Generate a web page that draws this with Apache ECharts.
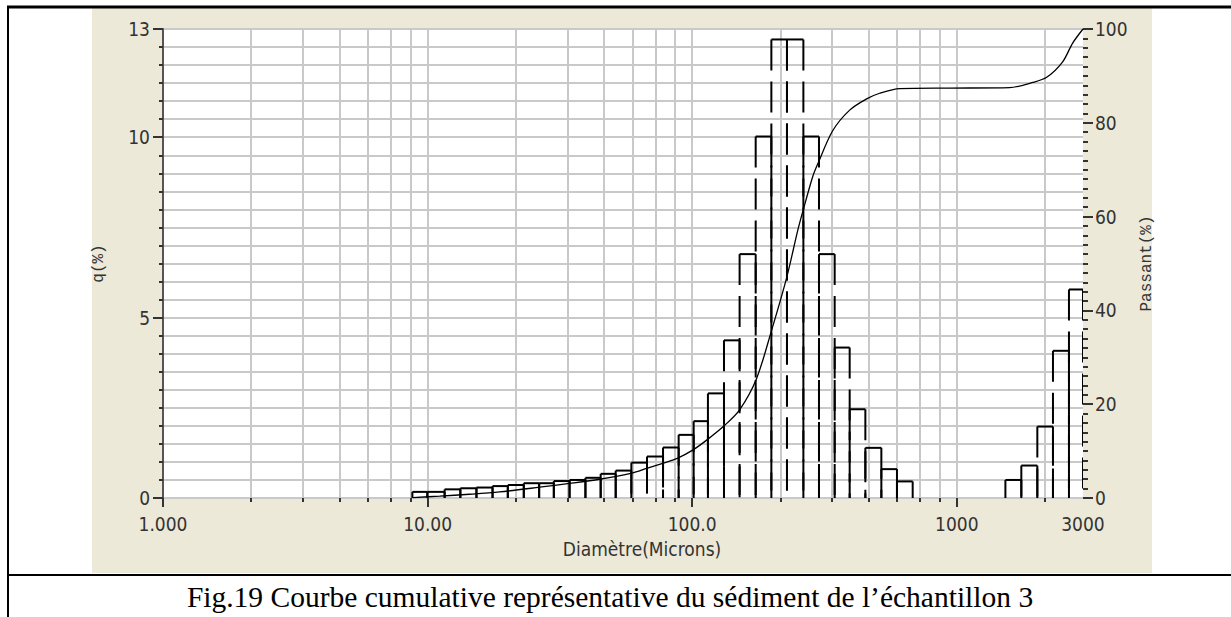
<!DOCTYPE html>
<html>
<head>
<meta charset="utf-8">
<script src="https://cdn.jsdelivr.net/npm/echarts@6/dist/echarts.min.js"></script>
<style>
html, body { margin: 0; padding: 0; background: #fff; }
#chart { width: 1231px; height: 617px; }
</style>
</head>
<body>
<div id="chart"></div>
<script>
// histogram classes: bin edges in microns, q(%) for each class (null = empty gap)
const binEdges = [8.76, 9.98, 11.6, 13.3, 15.3, 17.6, 20.1, 23.1, 26.4, 30.0, 34.4, 39.5, 45.1, 51.4,
  58.9, 67.5, 77.6, 88.9, 101.3, 114.7, 131.9, 151.1, 173.8, 199.2, 228.2, 263.2, 301.5, 345.6,
  393.8, 451.4, 518.8, 594.3, 681.4, 1527, 1754, 2016, 2310, 2655, 3000]
const qValues = [0.17, 0.17, 0.24, 0.27, 0.29, 0.33, 0.36, 0.41, 0.41, 0.47, 0.50, 0.56, 0.67, 0.76,
  0.98, 1.15, 1.40, 1.75, 2.13, 2.90, 4.37, 6.76, 10.02, 12.71, 12.71, 10.02, 6.76, 4.17,
  2.46, 1.39, 0.80, 0.46, null, 0.50, 0.90, 1.98, 4.08, 5.78]

// cumulative curve (Passant %)
const passantDiam = [8.8, 11.1, 14.4, 18.7, 26.5, 34.4, 44.7, 59.1, 67.3, 77.4, 88.2, 100.4, 114.4,
  132.7, 151.1, 175.2, 199.7, 227.6, 250.5, 261.6, 285.4, 298.1, 339.6, 393.8, 456.5, 511.1,
  608.4, 940, 1585, 1936, 2187, 2513, 2742, 3000]
const passantPct = [0.1, 0.4, 0.8, 1.3, 2.3, 3.1, 4.0, 5.3, 6.3, 7.4, 8.5, 10.2, 12.5,
  15.5, 18.8, 25.5, 35.8, 47, 57, 61, 68.5, 71.2, 78.3, 82.7, 85.1, 86.3,
  87.3, 87.4, 87.5, 88.6, 89.7, 93, 97, 100]

// axis ticks
const xMajorTicks = [1, 10, 100, 1000]
const xLabels = [1, 10, 100, 1000, 3000]
const minorSteps = [2, 3, 4, 5, 6, 7]   // the software squeezes its minor grid: steps of a base-8 scale
const qLabels = [0, 5, 10, 13]

const labelFont = "'DejaVu Sans Condensed', 'Liberation Sans Narrow', 'DejaVu Sans', sans-serif"
const monoFont = "'Courier New', 'Liberation Mono', monospace"
const gridColor = '#c9c9c9'
const inkColor = '#333'

let bars = []
for (let i = 0; i < qValues.length; i++) {
  if (qValues[i] == null) continue
  bars.push([binEdges[i], binEdges[i + 1], qValues[i]])
}
let curve = passantDiam.map((d, i) => [d, passantPct[i]])

// minor grid positions, in units of the hidden base-8 axis
const xMax8 = Math.pow(8, Math.log10(3000))
let minorGrid = []
for (let n = 0; n < 4; n++) {
  for (let k of minorSteps) {
    let v = k * Math.pow(8, n)
    if (v < xMax8) minorGrid.push(v)
  }
}

let dom = document.getElementById('chart')
let myChart = echarts.init(dom, null, {renderer: 'svg'})

let option = {
  backgroundColor: '#fff',
  animation: false,
  grid: {
    left: 163, top: 29, width: 920, height: 469,
    show: true, backgroundColor: '#fff', borderWidth: 0
  },
  xAxis: [{
    type: 'log', logBase: 10, min: 1, max: 3000, position: 'bottom',
    axisLine: {show: false, onZero: false},
    axisTick: {show: true, customValues: xMajorTicks, length: 9, lineStyle: {color: inkColor, width: 2}},
    axisLabel: {
      customValues: xLabels, margin: 16, color: inkColor, fontSize: 19, fontFamily: labelFont,
      formatter: function (v) { return v < 1000 ? Number(v).toPrecision(4) : String(Math.round(v)) }
    },
    splitLine: {show: true, lineStyle: {color: gridColor, width: 2}}
  }, {
    type: 'log', logBase: 8, min: 1, max: xMax8, position: 'bottom',
    axisLine: {show: false, onZero: false},
    axisTick: {show: true, customValues: minorGrid, length: 4, lineStyle: {color: inkColor, width: 2}},
    axisLabel: {show: false},
    splitLine: {show: true, lineStyle: {color: gridColor, width: 2}}
  }],
  yAxis: [{
    // fine grid, every 0.5
    type: 'value', min: 0, max: 13, interval: 0.5, position: 'left',
    axisLine: {show: true, onZero: false, lineStyle: {color: '#555', width: 2}},
    axisTick: {show: true, length: 4, lineStyle: {color: inkColor, width: 2}},
    axisLabel: {show: false},
    splitLine: {show: true, lineStyle: {color: gridColor, width: 2}}
  }, {
    type: 'value', min: 0, max: 100, interval: 20, position: 'right',
    name: 'Passant(%)', nameLocation: 'middle', nameRotate: 90, nameGap: 44,
    nameTextStyle: {fontFamily: monoFont, fontSize: 16, color: inkColor},
    axisLine: {show: false, onZero: false},
    axisTick: {show: true, length: 10, lineStyle: {color: inkColor, width: 2}},
    minorTick: {show: true, splitNumber: 10, length: 5, lineStyle: {color: inkColor, width: 2}},
    axisLabel: {margin: 12, color: inkColor, fontSize: 19, fontFamily: labelFont},
    splitLine: {show: false}
  }, {
    // labels and long ticks of q(%)
    type: 'value', min: 0, max: 13, interval: 5, position: 'left',
    name: 'q(%)', nameLocation: 'middle', nameRotate: 90, nameGap: 56,
    nameTextStyle: {fontFamily: monoFont, fontSize: 16, color: inkColor},
    axisLine: {show: false, onZero: false},
    axisTick: {show: true, length: 10, lineStyle: {color: inkColor, width: 2}},
    axisLabel: {
      customValues: qLabels, margin: 13, color: inkColor, fontSize: 19, fontFamily: labelFont
    },
    splitLine: {show: false}
  }],
  series: [{
    type: 'custom',
    name: 'q',
    xAxisIndex: 0,
    yAxisIndex: 0,
    data: bars,
    encode: {x: [0, 1], y: 2},
    clip: true,
    renderItem: function (params, api) {
      let top = api.coord([api.value(0), api.value(2)])
      let base = api.coord([api.value(1), 0])
      let solid = {stroke: '#000', lineWidth: 2, fill: null}
      let dashed = {stroke: '#000', lineWidth: 2, fill: null, lineDash: [31, 11]}
      return {
        type: 'group',
        children: [
          {type: 'line', shape: {x1: top[0], y1: top[1], x2: top[0], y2: base[1]}, style: dashed},
          {type: 'line', shape: {x1: top[0], y1: top[1], x2: base[0], y2: top[1]}, style: solid},
          {type: 'line', shape: {x1: base[0], y1: top[1], x2: base[0], y2: base[1]}, style: dashed}
        ]
      }
    }
  }, {
    type: 'line',
    name: 'Passant',
    xAxisIndex: 0,
    yAxisIndex: 1,
    data: curve,
    smooth: 0.3,
    showSymbol: false,
    lineStyle: {color: '#000', width: 1.3}
  }],
  graphic: [
    {type: 'rect', z: -10, shape: {x: 92, y: 8, width: 1060, height: 565}, style: {fill: '#ece9d8'}},
    {type: 'line', z: 100, shape: {x1: 7, y1: 7, x2: 1231, y2: 7}, style: {stroke: '#000', lineWidth: 3}},
    {type: 'line', z: 100, shape: {x1: 8, y1: 6, x2: 8, y2: 617}, style: {stroke: '#000', lineWidth: 2}},
    {type: 'line', z: 100, shape: {x1: 7, y1: 575, x2: 1231, y2: 575}, style: {stroke: '#000', lineWidth: 2}},
    {
      type: 'text', z: 100, x: 642, y: 549,
      style: {
        text: 'Diamètre(Microns)', fill: inkColor, fontSize: 19, fontFamily: labelFont,
        align: 'center', verticalAlign: 'middle', textAlign: 'center', textVerticalAlign: 'middle'
      }
    },
    {
      type: 'text', z: 100, x: 610, y: 597,
      style: {
        text: 'Fig.19 Courbe cumulative représentative du sédiment de l’échantillon 3',
        fill: '#000', fontSize: 29.5, fontFamily: "'Liberation Serif', 'DejaVu Serif', serif",
        align: 'center', verticalAlign: 'middle', textAlign: 'center', textVerticalAlign: 'middle'
      }
    }
  ]
}

myChart.setOption(option)
</script>
</body>
</html>
